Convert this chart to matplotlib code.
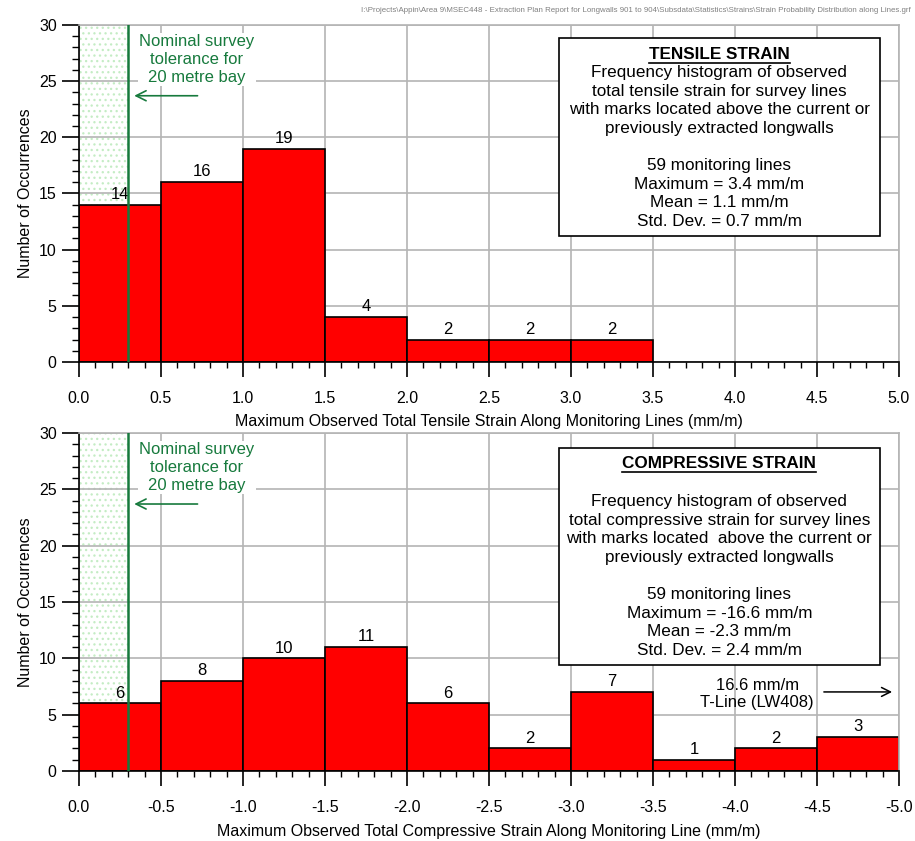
import numpy as np
import matplotlib
matplotlib.use('Agg')
import matplotlib.pyplot as plt
from matplotlib.lines import Line2D
from matplotlib.patches import Rectangle

plt.rcParams['font.family'] = ['Liberation Sans', 'DejaVu Sans']
plt.rcParams['axes.unicode_minus'] = False
plt.rcParams['hatch.linewidth'] = 0.9

# tensile strain histogram (mm/m)
tensile_edges = [0.0, 0.5, 1.0, 1.5, 2.0, 2.5, 3.0]
tensile_counts = [14, 16, 19, 4, 2, 2, 2]

# compressive strain histogram (mm/m)
comp_edges = [0.0, -0.5, -1.0, -1.5, -2.0, -2.5, -3.0, -3.5, -4.0, -4.5]
comp_counts = [6, 8, 10, 11, 6, 2, 7, 1, 2, 3]

bin_width = 0.5
tolerance = 0.3

tensile_title = 'TENSILE STRAIN'
tensile_body = ('Frequency histogram of observed\n'
                'total tensile strain for survey lines\n'
                'with marks located above the current or\n'
                'previously extracted longwalls\n\n'
                '59 monitoring lines\n'
                'Maximum = 3.4 mm/m\n'
                'Mean = 1.1 mm/m\n'
                'Std. Dev. = 0.7 mm/m')

comp_title = 'COMPRESSIVE STRAIN'
comp_body = ('Frequency histogram of observed\n'
             'total compressive strain for survey lines\n'
             'with marks located  above the current or\n'
             'previously extracted longwalls\n\n'
             '59 monitoring lines\n'
             'Maximum = -16.6 mm/m\n'
             'Mean = -2.3 mm/m\n'
             'Std. Dev. = 2.4 mm/m')

green = '#177a3d'
fs = 11.5
fs_box = 12.3

fig = plt.figure(figsize=(9.15, 8.41), dpi=100)
ax1 = fig.add_axes([0.0863, 0.5696, 0.8962, 0.4007])
ax2 = fig.add_axes([0.0863, 0.0832, 0.8962, 0.4019])


def style_axes(ax, sign, xlabel):
    ax.set_ylim(0, 30)
    ax.set_yticks(np.arange(0, 31, 5))
    ax.set_yticks(np.arange(0, 31, 1), minor=True)
    ticks = np.arange(0, 5.01, 0.5) * sign
    ax.set_xticks(ticks)
    ax.set_xticklabels(['%.1f' % t if abs(t) > 1e-9 else '0.0' for t in ticks])
    ax.set_xticks(np.arange(0, 5.01, 0.1) * sign, minor=True)
    ax.set_xlim(0, 5 * sign)
    ax.grid(True, which='major', color='#b4b4b4', linewidth=1.2, zorder=0)
    ax.set_axisbelow(True)
    for s in ['top', 'right']:
        ax.spines[s].set_color('#b4b4b4')
        ax.spines[s].set_linewidth(1.2)
    for s in ['left', 'bottom']:
        ax.spines[s].set_linewidth(1.2)
    ax.tick_params(axis='x', which='major', direction='out', length=11, width=1.2,
                   pad=10, labelsize=fs)
    ax.tick_params(axis='x', which='minor', direction='out', length=4, width=1)
    ax.tick_params(axis='y', which='major', direction='out', length=12, width=1.2,
                   pad=4, labelsize=fs)
    ax.tick_params(axis='y', which='minor', direction='out', length=5, width=1)
    ax.set_ylabel('Number of Occurrences', fontsize=fs, labelpad=4)
    ax.set_xlabel(xlabel, fontsize=fs, labelpad=6)

    # survey tolerance band
    ax.axvspan(0, tolerance * sign, facecolor='white', edgecolor='#c4ecc4',
               hatch='...', linewidth=0, zorder=0.5)
    ax.axvline(tolerance * sign, color=green, linewidth=1.8, zorder=4)
    ax.text(0.144, 0.972, 'Nominal survey\ntolerance for\n20 metre bay', transform=ax.transAxes,
            ha='center', va='top', color=green, fontsize=12, linespacing=1.22, zorder=3,
            bbox=dict(facecolor='white', edgecolor='none', pad=1))
    ax.annotate('', xy=(0.064, 0.79), xytext=(0.148, 0.79), xycoords='axes fraction',
                arrowprops=dict(arrowstyle='->', color=green, lw=1.2,
                                mutation_scale=18), zorder=4)


def draw_bars(ax, edges, counts, sign):
    ax.bar(edges, counts, width=bin_width * sign, align='edge', color='#ff0000',
           edgecolor='black', linewidth=1.2, zorder=2)
    for e, c in zip(edges, counts):
        ax.annotate(str(c), xy=(e + sign * bin_width / 2, c), xytext=(0, 2),
                    textcoords='offset points', ha='center', va='bottom', fontsize=12,
                    zorder=3)


def info_box(ax, x0, y0, x1, y1, title, ytitle, body, ybody):
    ax.add_patch(Rectangle((x0, y0), x1 - x0, y1 - y0, transform=ax.transAxes,
                           facecolor='white', edgecolor='black', linewidth=1.2, zorder=5))
    xc = (x0 + x1) / 2
    t = ax.text(xc, ytitle, title, transform=ax.transAxes, ha='center', va='center',
                fontsize=fs_box, fontweight='bold', zorder=6)
    ax.text(xc, ybody, body, transform=ax.transAxes, ha='center', va='top',
            fontsize=fs_box, linespacing=1.3, zorder=6)
    return t


style_axes(ax1, 1, 'Maximum Observed Total Tensile Strain Along Monitoring Lines (mm/m)')
draw_bars(ax1, tensile_edges, tensile_counts, 1)
t1 = info_box(ax1, 0.585, 0.374, 0.977, 0.961, tensile_title, 0.912, tensile_body, 0.881)

style_axes(ax2, -1, 'Maximum Observed Total Compressive Strain Along Monitoring Line (mm/m)')
draw_bars(ax2, comp_edges, comp_counts, -1)
t2 = info_box(ax2, 0.585, 0.314, 0.977, 0.956, comp_title, 0.911, comp_body, 0.819)

# off-scale note
ax2.text(0.827, 0.228, '16.6 mm/m\nT-Line (LW408)', transform=ax2.transAxes, ha='center',
         va='center', fontsize=12, linespacing=1.1, zorder=6)
ax2.annotate('', xy=(0.995, 0.234), xytext=(0.905, 0.234), xycoords='axes fraction',
             arrowprops=dict(arrowstyle='->', color='black', lw=1.1, mutation_scale=16))

fig.text(0.995, 0.988, r'I:\Projects\Appin\Area 9\MSEC448 - Extraction Plan Report for Longwalls 901 to 904'
         r'\Subsdata\Statistics\Strains\Strain Probability Distribution along Lines.grf',
         ha='right', va='center', fontsize=5.7, color='#808080')

# underline box titles
fig.canvas.draw()
r = fig.canvas.get_renderer()
inv = fig.transFigure.inverted()
for t in (t1, t2):
    bb = t.get_window_extent(r)
    (xa, ya), (xb, _) = inv.transform([(bb.x0, bb.y0 - 1), (bb.x1, bb.y0)])
    fig.add_artist(Line2D([xa, xb], [ya, ya], transform=fig.transFigure,
                          color='black', linewidth=1.2, zorder=10))

fig.savefig('out.png', dpi=100)
